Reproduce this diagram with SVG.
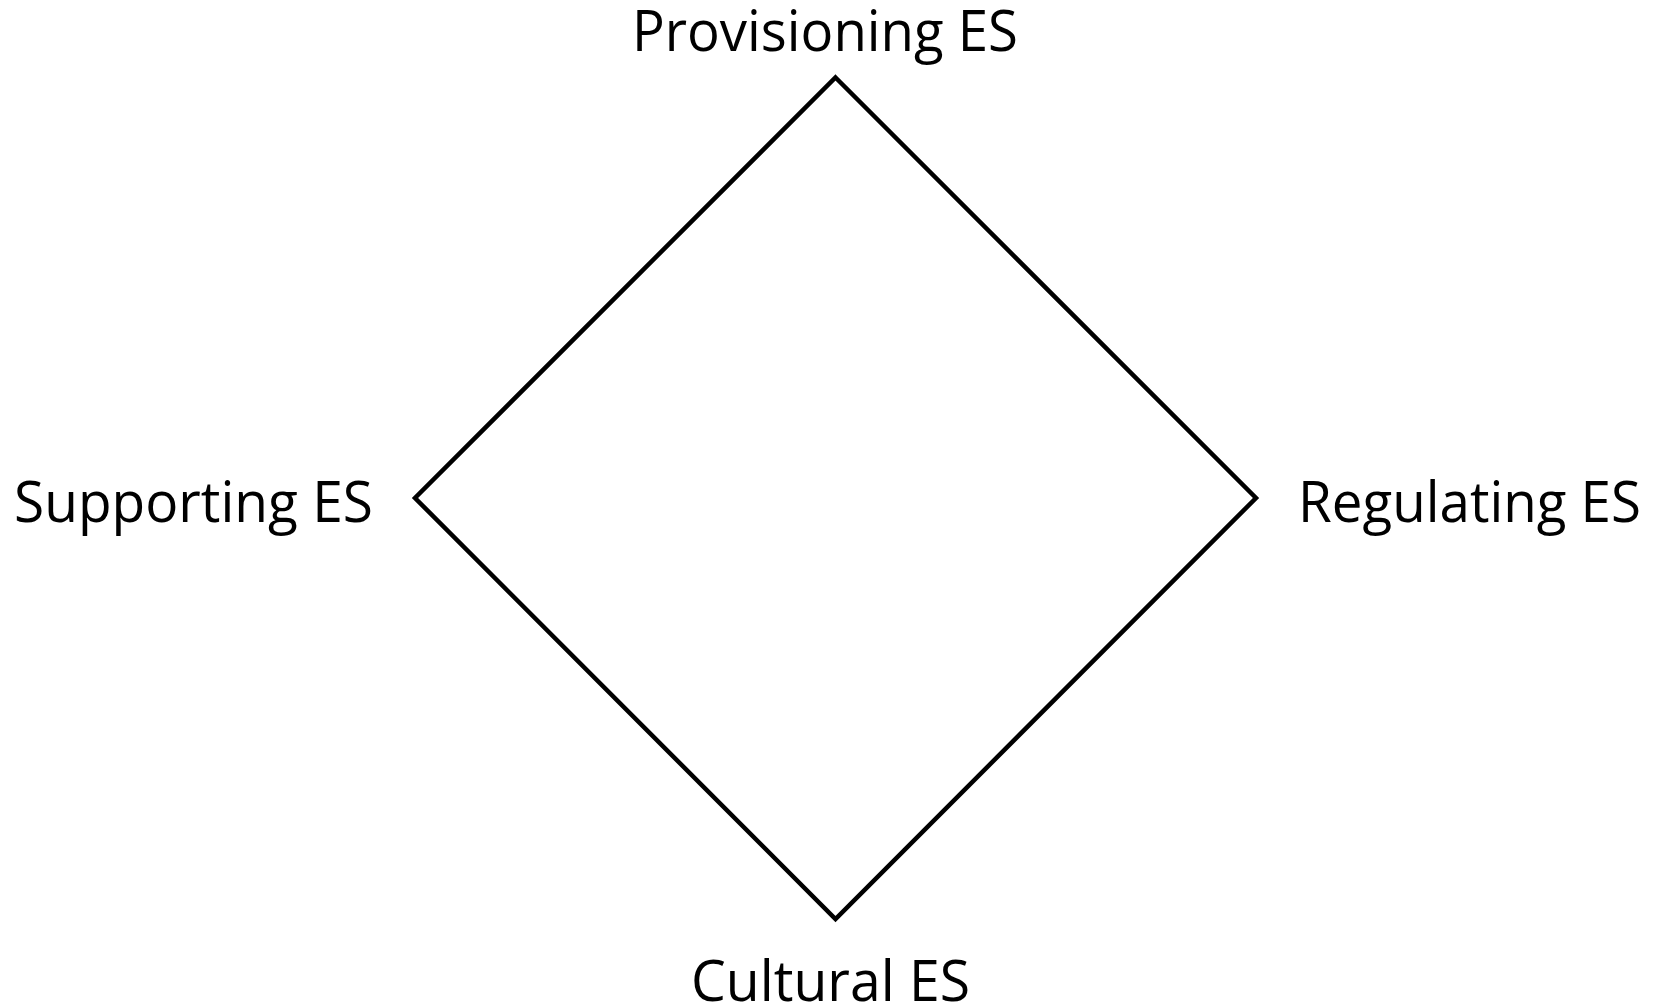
<svg xmlns="http://www.w3.org/2000/svg" width="1667" height="1006" viewBox="0 0 1667 1006">
  <style>
    .lbl { font-family: "Open Sans", "Noto Sans", "Liberation Sans", sans-serif; font-size: 56px; font-weight: 500; fill: #000; }
    .edge { fill: none; stroke: #000; stroke-width: 4.5; stroke-linejoin: miter; }
  </style>
  <rect width="1667" height="1006" fill="#fff"/>
  <g id="connectors">
    <path class="edge" d="M835.5,77.5 L1256,498 L835.5,919 L415,498 Z"/>
  </g>
  <g id="node-provisioning">
    <text class="lbl" x="632" y="50.5" textLength="386" lengthAdjust="spacingAndGlyphs">Provisioning ES</text>
  </g>
  <g id="node-supporting">
    <text class="lbl" x="14" y="521.5" textLength="359" lengthAdjust="spacingAndGlyphs">Supporting ES</text>
  </g>
  <g id="node-regulating">
    <text class="lbl" x="1298" y="521.5" textLength="343" lengthAdjust="spacingAndGlyphs">Regulating ES</text>
  </g>
  <g id="node-cultural">
    <text class="lbl" x="691" y="1000.5" textLength="279" lengthAdjust="spacingAndGlyphs">Cultural ES</text>
  </g>
</svg>
